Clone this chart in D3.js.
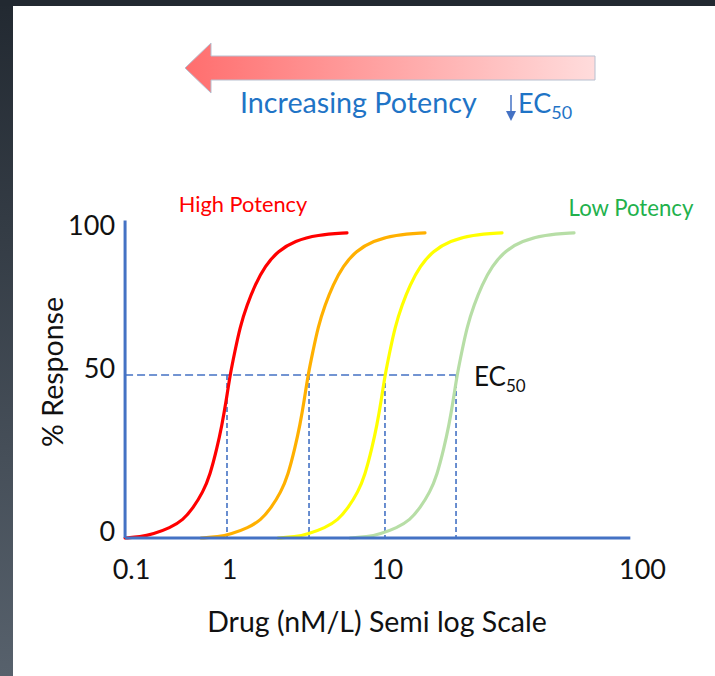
<!DOCTYPE html>
<html>
<head>
<meta charset="utf-8">
<script src="https://cdn.jsdelivr.net/npm/d3@7"></script>
<style>
  body { margin: 0; background: #fff; overflow: hidden; }
  svg text { font-family: Lato, "Open Sans", sans-serif; }
</style>
</head>
<body>
<div id="dataviz"></div>
<script>
// tick labels of the semi log chart
var xTicks = [0.1, 1, 10, 100];
var yTicks = [0, 50, 100];
var xAxisExtent = [0.087, 90];   // drug range covered by the drawn x axis line
var yAxisExtent = [0, 104];      // response range covered by the drawn y axis line

// dose-response curves:
// % response levels, and the drug dose (nM/L) at which each curve reaches them
var response   = [0, 0.3, 1.2, 3.1, 5.5, 9.2, 14.1, 19.3, 27.6, 34.7, 41.7, 50,
                  58.4, 66.8, 74.5, 81.5, 88.1, 93.4, 96.9, 99.0, 99.7];
var redDose    = [0.087, 0.124, 0.168, 0.250, 0.340, 0.430, 0.543, 0.640, 0.755, 0.848, 0.932, 1.015,
                  1.091, 1.174, 1.300, 1.461, 1.690, 2.043, 2.616, 3.606, 5.58];
var orangeDose = [0.518, 0.772, 1.030, 1.319, 1.594, 1.845, 2.134, 2.363, 2.616, 2.814, 2.983, 3.162,
                  3.402, 3.659, 4.052, 4.552, 5.267, 6.366, 8.155, 10.75, 14.09];
var yellowDose = [2.042, 2.616, 3.162, 4.052, 4.897, 5.666, 6.555, 7.256, 8.037, 8.645, 9.163, 9.712,
                  10.27, 10.75, 11.45, 12.31, 13.47, 15.15, 17.66, 21.54, 28.25];
var greenDose  = [5.833, 7.470, 9.030, 10.94, 12.31, 13.47, 14.75, 15.71, 16.73, 17.51, 18.15, 18.82,
                  19.68, 20.59, 21.94, 23.58, 25.81, 29.02, 33.84, 41.28, 54.12];

var curveColors = ["#ff0000", "#ffb000", "#ffff00", "#b7dea6"];
var ec50 = [0.954, 3.21, 9.71, 18.65];   // where the dashed lines drop to the axis

var width = 715, height = 676;

var svg = d3.select("#dataviz")
  .append("svg")
    .attr("width", width)
    .attr("height", height);

// slide background with the dark frame at top and left
var defs = svg.append("defs");
var frameGrad = defs.append("linearGradient")
    .attr("id", "frameGrad").attr("x1", 0).attr("y1", 0).attr("x2", 0).attr("y2", 1);
frameGrad.append("stop").attr("offset", "0%").attr("stop-color", "#222931");
frameGrad.append("stop").attr("offset", "100%").attr("stop-color", "#57616c");

var arrowGrad = defs.append("linearGradient")
    .attr("id", "arrowGrad").attr("x1", 0).attr("y1", 0).attr("x2", 1).attr("y2", 0);
arrowGrad.append("stop").attr("offset", "0%").attr("stop-color", "#ff6e6e");
arrowGrad.append("stop").attr("offset", "100%").attr("stop-color", "#ffdcdc");

svg.append("rect").attr("width", width).attr("height", height).attr("fill", "#fff");
svg.append("rect").attr("width", 13).attr("height", height).attr("fill", "url(#frameGrad)");
svg.append("rect").attr("width", width).attr("height", 6).attr("fill", "#222931");

// scales: the semi log axis is hand spaced in the picture, so the log scale is piecewise
var x = d3.scaleLog()
  .domain(xTicks)
  .range([131, 229, 387, 642]);

var y = d3.scaleLinear()
  .domain([0, 50, 100])
  .range([538, 375, 232]);

/////////////////////////////////////////////////////////////////
// Potency arrow and caption
/////////////////////////////////////////////////////////////////

svg.append("path")
  .attr("d", "M185,68 L211,43 L211,56 L595,56 L595,80 L211,80 L211,93 Z")
  .attr("fill", "url(#arrowGrad)")
  .attr("stroke", "#b7c0d0")
  .attr("stroke-width", 1);

svg.append("text")
  .attr("x", 240)
  .attr("y", 113)
  .attr("font-size", 28.7)
  .attr("fill", "#1f74c6")
  .text("Increasing Potency");

// small down arrow before EC50
svg.append("line")
  .attr("x1", 511).attr("x2", 511).attr("y1", 95).attr("y2", 113)
  .attr("stroke", "#4472c4").attr("stroke-width", 1.5);
svg.append("path")
  .attr("d", "M506,111 L516,111 L511,121 Z")
  .attr("fill", "#4472c4");

var ecTop = svg.append("text")
  .attr("x", 518)
  .attr("y", 113)
  .attr("font-size", 27)
  .attr("fill", "#1f74c6");
ecTop.append("tspan").text("EC");
ecTop.append("tspan").attr("dy", 6).attr("font-size", 18).text("50");

/////////////////////////////////////////////////////////////////
// Axes
/////////////////////////////////////////////////////////////////

var yAxis = svg.append("g")
  .attr("transform", "translate(" + x(xAxisExtent[0]) + ",0)")
  .call(d3.axisLeft(y).tickValues(yTicks).tickSize(0).tickPadding(10));

var xAxis = svg.append("g")
  .attr("transform", "translate(0," + y(0) + ")")
  .call(d3.axisBottom(x).tickValues(xTicks).tickSize(0).tickPadding(22)
    .tickFormat(function(d) { return String(d); }));

[xAxis, yAxis].forEach(function(a) {
  a.select(".domain").remove();
  a.selectAll("text")
    .attr("font-size", 27)
    .attr("font-family", "Lato, 'Open Sans', sans-serif")
    .attr("fill", "#111");
});
yAxis.selectAll("text").attr("dy", "0.08em");

/////////////////////////////////////////////////////////////////
// EC50 guide lines
/////////////////////////////////////////////////////////////////

svg.append("line")
  .attr("x1", x(xAxisExtent[0]))
  .attr("x2", x(d3.max(ec50)))
  .attr("y1", y(50)).attr("y2", y(50))
  .attr("stroke", "#4472c4")
  .attr("stroke-width", 1.6)
  .attr("stroke-dasharray", "8,4");

svg.selectAll(".ecDrop")
  .data(ec50)
  .enter()
  .append("line")
    .classed("ecDrop", true)
    .attr("x1", function(d) { return x(d); })
    .attr("x2", function(d) { return x(d); })
    .attr("y1", y(50))
    .attr("y2", y(0))
    .attr("stroke", "#4472c4")
    .attr("stroke-width", 1.6)
    .attr("stroke-dasharray", "5,3");

/////////////////////////////////////////////////////////////////
// Dose-response curves
/////////////////////////////////////////////////////////////////

var curves = [redDose, orangeDose, yellowDose, greenDose].map(function(dose) {
  return d3.zip(dose, response);
});

// basis curve smooths out the small reading errors in the points
var line = d3.line()
  .curve(d3.curveBasis)
  .x(function(d) { return x(d[0]); })
  .y(function(d) { return y(d[1]); });

svg.selectAll(".curve")
  .data(curves)
  .enter()
  .append("path")
    .classed("curve", true)
    .attr("fill", "none")
    .attr("stroke", function(d, i) { return curveColors[i]; })
    .attr("stroke-width", 3.2)
    .attr("stroke-linecap", "round")
    .attr("stroke-linejoin", "round")
    .attr("d", line);

// axis lines drawn over the curve feet
svg.append("line")
  .attr("x1", x(xAxisExtent[0])).attr("x2", x(xAxisExtent[0]))
  .attr("y1", y(yAxisExtent[0])).attr("y2", y(yAxisExtent[1]))
  .attr("stroke", "#4472c4").attr("stroke-width", 3);
svg.append("line")
  .attr("x1", x(xAxisExtent[0])).attr("x2", x(xAxisExtent[1]))
  .attr("y1", y(0)).attr("y2", y(0))
  .attr("stroke", "#4472c4").attr("stroke-width", 3);

/////////////////////////////////////////////////////////////////
// Labels
/////////////////////////////////////////////////////////////////

svg.append("text")
  .attr("x", 243).attr("y", 212)
  .attr("font-size", 21.8)
  .attr("fill", "#ff0000")
  .style("text-anchor", "middle")
  .text("High Potency");

svg.append("text")
  .attr("x", 631).attr("y", 216)
  .attr("font-size", 22.2)
  .attr("fill", "#22b14c")
  .style("text-anchor", "middle")
  .text("Low Potency");

var ecLabel = svg.append("text")
  .attr("x", 474)
  .attr("y", 386)
  .attr("font-size", 26)
  .attr("fill", "#111");
ecLabel.append("tspan").text("EC");
ecLabel.append("tspan").attr("dy", 6).attr("font-size", 17).text("50");

svg.append("text")
  .attr("x", 377).attr("y", 632)
  .attr("font-size", 28.5)
  .attr("fill", "#111")
  .style("text-anchor", "middle")
  .text("Drug (nM/L) Semi log Scale");

svg.append("text")
  .attr("transform", "translate(63,372) rotate(-90)")
  .attr("font-size", 28.5)
  .attr("fill", "#111")
  .style("text-anchor", "middle")
  .text("% Response");
</script>
</body>
</html>
